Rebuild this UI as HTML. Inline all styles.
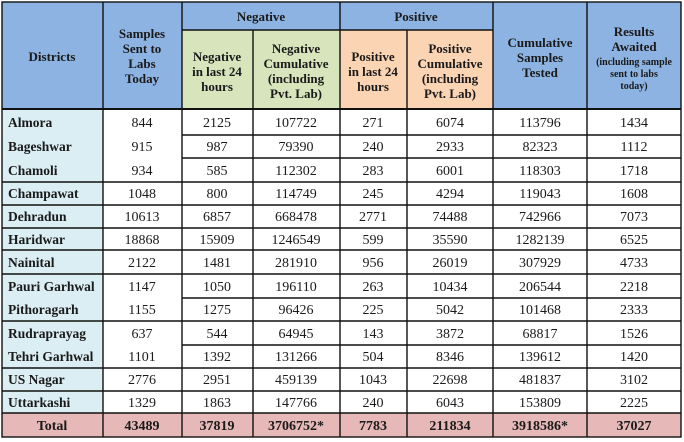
<!DOCTYPE html>
<html><head><meta charset="utf-8"><style>
body{margin:0;background:#fff}
svg{display:block;font-family:"Liberation Serif",serif}
.h{font-weight:bold;font-size:13px;fill:#1a1a1a;text-anchor:middle}
.s{font-weight:bold;font-size:10px;fill:#1a1a1a;text-anchor:middle}
.d{font-weight:bold;font-size:13.5px;fill:#1a1a1a}
.n text{font-size:14px;fill:#1a1a1a;text-anchor:middle}
.t text{font-size:14px;font-weight:bold;fill:#1a1a1a;text-anchor:middle}
</style></head><body>
<svg width="684" height="442" viewBox="0 0 684 442">
<rect x="2" y="2" width="679" height="108" fill="#8db3e2"/>
<rect x="182" y="30" width="158" height="78" fill="#d7e4bc"/>
<rect x="340" y="30" width="153" height="78" fill="#fbd4b4"/>
<rect x="2" y="110" width="101" height="303" fill="#daeef3"/>
<rect x="2" y="413" width="679" height="24" fill="#e6b9b8"/>
<g stroke="#111" stroke-width="1.4" fill="none">
<rect x="2" y="2" width="679" height="435"/>
<line x1="2" y1="109" x2="681" y2="109" stroke-width="2"/>
<line x1="182" y1="30" x2="493" y2="30"/>
<line x1="103" y1="2" x2="103" y2="437"/>
<line x1="182" y1="2" x2="182" y2="437"/>
<line x1="253" y1="30" x2="253" y2="437"/>
<line x1="340" y1="2" x2="340" y2="437"/>
<line x1="407" y1="30" x2="407" y2="437"/>
<line x1="493" y1="2" x2="493" y2="437"/>
<line x1="587" y1="2" x2="587" y2="437"/>
<line x1="182" y1="135" x2="681" y2="135"/>
<line x1="182" y1="158" x2="681" y2="158"/>
<line x1="2" y1="182" x2="681" y2="182"/>
<line x1="2" y1="205" x2="681" y2="205"/>
<line x1="2" y1="228" x2="681" y2="228"/>
<line x1="2" y1="250" x2="681" y2="250"/>
<line x1="2" y1="274" x2="681" y2="274"/>
<line x1="182" y1="298" x2="681" y2="298"/>
<line x1="2" y1="321" x2="681" y2="321"/>
<line x1="182" y1="345" x2="681" y2="345"/>
<line x1="2" y1="368" x2="681" y2="368"/>
<line x1="2" y1="391" x2="681" y2="391"/>
<line x1="2" y1="413" x2="681" y2="413"/>
</g>
<text class="h" x="52" y="61">Districts</text>
<text class="h" x="142" y="38">Samples</text><text class="h" x="142" y="53">Sent to</text><text class="h" x="142" y="68">Labs</text><text class="h" x="142" y="83">Today</text>
<text class="h" x="261" y="21">Negative</text>
<text class="h" x="416" y="21">Positive</text>
<text class="h" x="217" y="61">Negative</text><text class="h" x="217" y="76">in last 24</text><text class="h" x="217" y="91">hours</text>
<text class="h" x="296" y="53">Negative</text><text class="h" x="296" y="68">Cumulative</text><text class="h" x="296" y="83">(including</text><text class="h" x="296" y="98">Pvt. Lab)</text>
<text class="h" x="373" y="61">Positive</text><text class="h" x="373" y="76">in last 24</text><text class="h" x="373" y="91">hours</text>
<text class="h" x="450" y="53">Positive</text><text class="h" x="450" y="68">Cumulative</text><text class="h" x="450" y="83">(including</text><text class="h" x="450" y="98">Pvt. Lab)</text>
<text class="h" x="540" y="47">Cumulative</text><text class="h" x="540" y="62">Samples</text><text class="h" x="540" y="77">Tested</text>
<text class="h" x="634" y="36">Results</text><text class="h" x="634" y="51">Awaited</text>
<text class="s" x="634" y="65">(including sample</text><text class="s" x="634" y="77">sent to labs</text><text class="s" x="634" y="89">today)</text>
<g>
<text class="d" x="8" y="127">Almora</text>
<text class="d" x="8" y="151">Bageshwar</text>
<text class="d" x="8" y="175">Chamoli</text>
<text class="d" x="8" y="198">Champawat</text>
<text class="d" x="8" y="221">Dehradun</text>
<text class="d" x="8" y="244">Haridwar</text>
<text class="d" x="8" y="267">Nainital</text>
<text class="d" x="8" y="291">Pauri Garhwal</text>
<text class="d" x="8" y="314">Pithoragarh</text>
<text class="d" x="8" y="338">Rudraprayag</text>
<text class="d" x="8" y="361">Tehri Garhwal</text>
<text class="d" x="8" y="384">US Nagar</text>
<text class="d" x="8" y="407">Uttarkashi</text>
<text class="h" x="52" y="430" style="font-size:14px">Total</text>
</g>
<g class="n">
<text x="142" y="127">844</text><text x="217" y="127">2125</text><text x="296" y="127">107722</text><text x="373" y="127">271</text><text x="450" y="127">6074</text><text x="540" y="127">113796</text><text x="634" y="127">1434</text>
<text x="142" y="151">915</text><text x="217" y="151">987</text><text x="296" y="151">79390</text><text x="373" y="151">240</text><text x="450" y="151">2933</text><text x="540" y="151">82323</text><text x="634" y="151">1112</text>
<text x="142" y="175">934</text><text x="217" y="175">585</text><text x="296" y="175">112302</text><text x="373" y="175">283</text><text x="450" y="175">6001</text><text x="540" y="175">118303</text><text x="634" y="175">1718</text>
<text x="142" y="198">1048</text><text x="217" y="198">800</text><text x="296" y="198">114749</text><text x="373" y="198">245</text><text x="450" y="198">4294</text><text x="540" y="198">119043</text><text x="634" y="198">1608</text>
<text x="142" y="221">10613</text><text x="217" y="221">6857</text><text x="296" y="221">668478</text><text x="373" y="221">2771</text><text x="450" y="221">74488</text><text x="540" y="221">742966</text><text x="634" y="221">7073</text>
<text x="142" y="244">18868</text><text x="217" y="244">15909</text><text x="296" y="244">1246549</text><text x="373" y="244">599</text><text x="450" y="244">35590</text><text x="540" y="244">1282139</text><text x="634" y="244">6525</text>
<text x="142" y="267">2122</text><text x="217" y="267">1481</text><text x="296" y="267">281910</text><text x="373" y="267">956</text><text x="450" y="267">26019</text><text x="540" y="267">307929</text><text x="634" y="267">4733</text>
<text x="142" y="291">1147</text><text x="217" y="291">1050</text><text x="296" y="291">196110</text><text x="373" y="291">263</text><text x="450" y="291">10434</text><text x="540" y="291">206544</text><text x="634" y="291">2218</text>
<text x="142" y="314">1155</text><text x="217" y="314">1275</text><text x="296" y="314">96426</text><text x="373" y="314">225</text><text x="450" y="314">5042</text><text x="540" y="314">101468</text><text x="634" y="314">2333</text>
<text x="142" y="338">637</text><text x="217" y="338">544</text><text x="296" y="338">64945</text><text x="373" y="338">143</text><text x="450" y="338">3872</text><text x="540" y="338">68817</text><text x="634" y="338">1526</text>
<text x="142" y="361">1101</text><text x="217" y="361">1392</text><text x="296" y="361">131266</text><text x="373" y="361">504</text><text x="450" y="361">8346</text><text x="540" y="361">139612</text><text x="634" y="361">1420</text>
<text x="142" y="384">2776</text><text x="217" y="384">2951</text><text x="296" y="384">459139</text><text x="373" y="384">1043</text><text x="450" y="384">22698</text><text x="540" y="384">481837</text><text x="634" y="384">3102</text>
<text x="142" y="407">1329</text><text x="217" y="407">1863</text><text x="296" y="407">147766</text><text x="373" y="407">240</text><text x="450" y="407">6043</text><text x="540" y="407">153809</text><text x="634" y="407">2225</text>
</g>
<g class="t">
<text x="142" y="430">43489</text><text x="217" y="430">37819</text><text x="296" y="430">3706752*</text><text x="373" y="430">7783</text><text x="450" y="430">211834</text><text x="540" y="430">3918586*</text><text x="634" y="430">37027</text>
</g>
</svg>
</body></html>
